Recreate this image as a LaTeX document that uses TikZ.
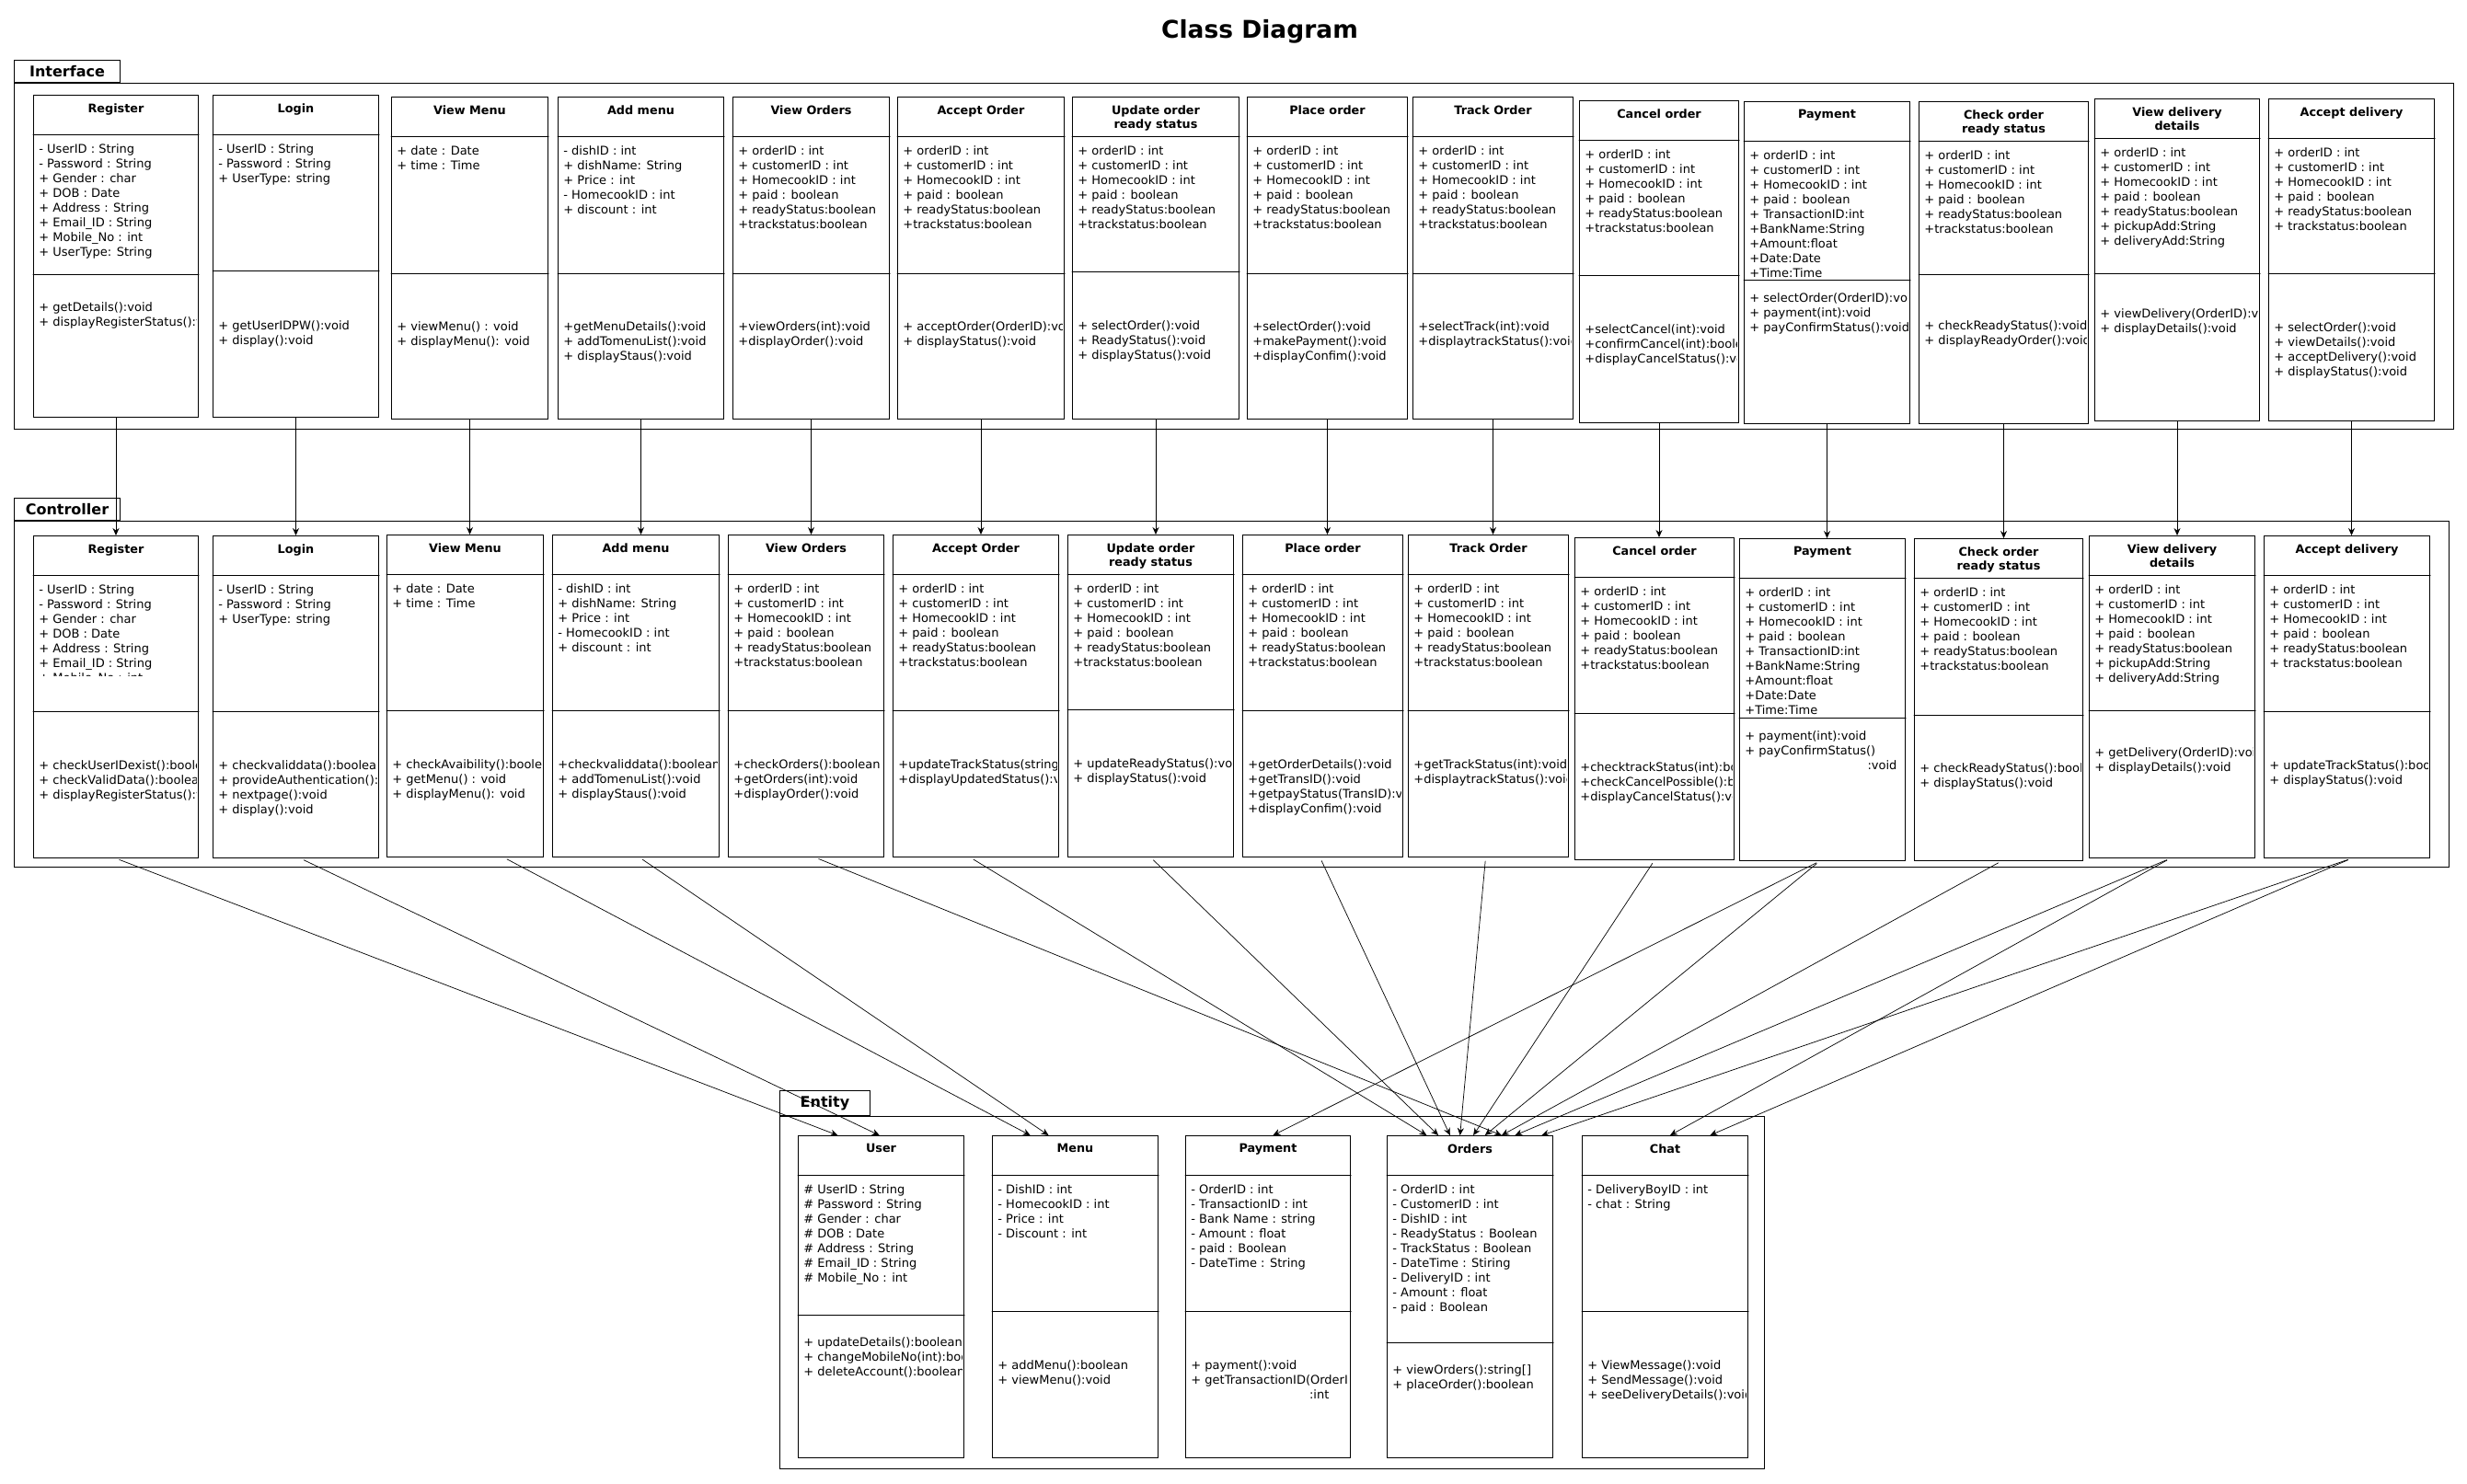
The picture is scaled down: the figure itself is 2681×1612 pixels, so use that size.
\documentclass[tikz,border=0pt]{standalone}
\usepackage{fontspec}
\setmainfont{DejaVu Sans}
\usetikzlibrary{arrows.meta,positioning,calc}

% one UML class: name, left, top, width, attribute height, offset of methods, title, attributes, methods
\newcommand{\umlclass}[9]{%
  \node[classbox, minimum width=#4*0.5pt] (#1) at (#2,#3) {};
  \draw[sepline] ([shift={(0,43)}]#1.north west) -- ([shift={(0,43)}]#1.north east);
  \draw[sepline] ([shift={(0,43+#5)}]#1.north west) -- ([shift={(0,43+#5)}]#1.north east);
  \begin{scope}
    \clip ([shift={(1,1)}]#1.north west) rectangle ([shift={(-3,-1)}]#1.south east);
    \node[classname, below=4.5pt of #1.north] (#1-name) {#7};
    \node[members] (#1-attr) at ([shift={(6,53)}]#1.north west) {#8};
    \node[members] (#1-ops) at ([shift={(6,38+#5+#6)}]#1.north west) {#9};
  \end{scope}
}
\newcommand{\orderattrs}{+ orderID : int\\+ customerID : int\\+ HomecookID : int\\+ paid : boolean\\+ readyStatus:boolean\\+trackstatus:boolean}
\newcommand{\payattrs}{+ orderID : int\\+ customerID : int\\+ HomecookID : int\\+ paid : boolean\\+ TransactionID:int\\+BankName:String\\+Amount:float\\+Date:Date\\+Time:Time}
\newcommand{\deliveryattrs}{+ orderID : int\\+ customerID : int\\+ HomecookID : int\\+ paid : boolean\\+ readyStatus:boolean\\+ pickupAdd:String\\+ deliveryAdd:String}

\begin{document}
\begin{tikzpicture}[x=0.5pt, y=-0.5pt, >={Stealth[length=4pt,width=3.5pt]}, line cap=round]
   \tikzstyle{classbox}=[draw, rectangle, line width=0.5pt, minimum height=175pt, inner sep=0pt, anchor=north west]
   \tikzstyle{sepline}=[line width=0.5pt]
   \tikzstyle{classname}=[align=center, inner sep=0pt, font=\bfseries\fontsize{6.4}{7.5}\selectfont]
   \tikzstyle{members}=[align=left, inner sep=0pt, anchor=north west, font=\fontsize{6.5}{8}\selectfont]
   \tikzstyle{pkg}=[draw, line width=0.5pt, inner sep=0pt, anchor=north west]
   \tikzstyle{pkgtab}=[draw, line width=0.5pt, inner sep=0pt, anchor=south west, minimum height=12pt, font=\bfseries\fontsize{8}{9.6}\selectfont]
   \tikzstyle{flow}=[->, line width=0.45pt]
   \tikzstyle{link}=[->, line width=0.35pt, shorten <=2pt]

   \useasboundingbox (0,0) rectangle (2681,1612);
   \node[font=\bfseries\fontsize{13.25}{16}\selectfont] (title) at (1369,34) {Class Diagram};

   % packages
   \node[pkg, minimum width=2651*0.5pt, minimum height=376*0.5pt] (interface) at (15,90) {};
   \node[pkgtab, minimum width=115*0.5pt] (interface-tab) at (interface.north west) {Interface};
   \node[pkg, minimum width=2646*0.5pt, minimum height=376*0.5pt] (controller) at (15,566) {};
   \node[pkgtab, minimum width=115*0.5pt] (controller-tab) at (controller.north west) {Controller};
   \node[pkg, minimum width=1070*0.5pt, minimum height=383*0.5pt] (entity) at (847,1213) {};
   \node[pkgtab, minimum width=98*0.5pt, minimum height=13.5pt] (entity-tab) at (entity.north west) {Entity};

   % interface
   \umlclass{iRegister}{36}{103}{179}{152}{35}{Register}{- UserID : String\\- Password : String\\+ Gender : char\\+ DOB : Date\\+ Address : String\\+ Email\_ID : String\\+ Mobile\_No : int\\+ UserType: String}{+ getDetails():void\\+ displayRegisterStatus():void}
   \umlclass{iLogin}{231}{103}{180}{148}{59}{Login}{- UserID : String\\- Password : String\\+ UserType: string}{+ getUserIDPW():void\\+ display():void}
   \umlclass{iViewMenu}{425}{105}{170}{149}{57}{View Menu}{+ date : Date\\+ time : Time}{+ viewMenu() : void\\+ displayMenu(): void}
   \umlclass{iAddMenu}{606}{105}{180}{149}{57}{Add menu}{- dishID : int\\+ dishName: String\\+ Price : int\\- HomecookID : int\\+ discount : int}{+getMenuDetails():void\\+ addTomenuList():void\\+ displayStaus():void}
   \umlclass{iViewOrders}{796}{105}{170}{149}{57}{View Orders}{\orderattrs}{+viewOrders(int):void\\+displayOrder():void}
   \umlclass{iAcceptOrder}{975}{105}{181}{149}{57}{Accept Order}{\orderattrs}{+ acceptOrder(OrderID):void\\+ displayStatus():void}
   \umlclass{iUpdateOrder}{1165}{105}{181}{147}{58}{Update order\\ready status}{\orderattrs}{+ selectOrder():void\\+ ReadyStatus():void\\+ displayStatus():void}
   \umlclass{iPlaceOrder}{1355}{105}{174}{149}{57}{Place order}{\orderattrs}{+selectOrder():void\\+makePayment():void\\+displayConfim():void}
   \umlclass{iTrackOrder}{1535}{105}{174}{149}{57}{Track Order}{\orderattrs}{+selectTrack(int):void\\+displaytrackStatus():void}
   \umlclass{iCancelOrder}{1716}{109}{173}{147}{58}{Cancel order}{\orderattrs}{+selectCancel(int):void\\+confirmCancel(int):boolean\\+displayCancelStatus():void}
   \umlclass{iPayment}{1895}{110}{180}{151}{19}{Payment}{\payattrs}{+ selectOrder(OrderID):void\\+ payment(int):void\\+ payConfirmStatus():void}
   \umlclass{iCheckOrder}{2085}{110}{184}{145}{55}{Check order\\ready status}{\orderattrs}{+ checkReadyStatus():void\\+ displayReadyOrder():void}
   \umlclass{iViewDelivery}{2276}{107}{179}{147}{43}{View delivery\\details}{\deliveryattrs}{+ viewDelivery(OrderID):void\\+ displayDetails():void}
   \umlclass{iAcceptDelivery}{2465}{107}{180}{147}{58}{Accept delivery}{+ orderID : int\\+ customerID : int\\+ HomecookID : int\\+ paid : boolean\\+ readyStatus:boolean\\+ trackstatus:boolean}{+ selectOrder():void\\+ viewDetails():void\\+ acceptDelivery():void\\+ displayStatus():void}

   % controller
   \umlclass{cRegister}{36}{582}{179}{148}{58}{Register}{- UserID : String\\- Password : String\\+ Gender : char\\+ DOB : Date\\+ Address : String\\+ Email\_ID : String}{+ checkUserIDexist():boolean\\+ checkValidData():boolean\\+ displayRegisterStatus():void}
   \begin{scope}
     \clip (37,720) rectangle (213,734);
     \node[members] (cRegister-cut) at ([shift={(6,149)}]cRegister.north west) {+ Mobile\_No : int};
   \end{scope}
   \umlclass{cLogin}{231}{582}{180}{148}{58}{Login}{- UserID : String\\- Password : String\\+ UserType: string}{+ checkvaliddata():boolean\\+ provideAuthentication():void\\+ nextpage():void\\+ display():void}
   \umlclass{cViewMenu}{420}{581}{170}{148}{58}{View Menu}{+ date : Date\\+ time : Time}{+ checkAvaibility():boolean\\+ getMenu() : void\\+ displayMenu(): void}
   \umlclass{cAddMenu}{600}{581}{181}{148}{58}{Add menu}{- dishID : int\\+ dishName: String\\+ Price : int\\- HomecookID : int\\+ discount : int}{+checkvaliddata():boolean\\+ addTomenuList():void\\+ displayStaus():void}
   \umlclass{cViewOrders}{791}{581}{169}{148}{58}{View Orders}{\orderattrs}{+checkOrders():boolean\\+getOrders(int):void\\+displayOrder():void}
   \umlclass{cAcceptOrder}{970}{581}{180}{148}{58}{Accept Order}{\orderattrs}{+updateTrackStatus(string):void\\+displayUpdatedStatus():void}
   \umlclass{cUpdateOrder}{1160}{581}{180}{147}{58}{Update order\\ready status}{\orderattrs}{+ updateReadyStatus():void\\+ displayStatus():void}
   \umlclass{cPlaceOrder}{1350}{581}{174}{148}{58}{Place order}{\orderattrs}{+getOrderDetails():void\\+getTransID():void\\+getpayStatus(TransID):void\\+displayConfim():void}
   \umlclass{cTrackOrder}{1530}{581}{174}{148}{58}{Track Order}{\orderattrs}{+getTrackStatus(int):void\\+displaytrackStatus():void}
   \umlclass{cCancelOrder}{1711}{584}{173}{148}{58}{Cancel order}{\orderattrs}{+checktrackStatus(int):boolean\\+checkCancelPossible():boolean\\+displayCancelStatus():void}
   \umlclass{cPayment}{1890}{585}{180}{152}{19}{Payment}{\payattrs}{+ payment(int):void\\+ payConfirmStatus()\\\makebox[82.5pt][r]{:void}}
   \umlclass{cCheckOrder}{2080}{585}{183}{149}{57}{Check order\\ready status}{\orderattrs}{+ checkReadyStatus():boolean\\+ displayStatus():void}
   \umlclass{cViewDelivery}{2270}{582}{180}{147}{45}{View delivery\\details}{\deliveryattrs}{+ getDelivery(OrderID):void\\+ displayDetails():void}
   \umlclass{cAcceptDelivery}{2460}{582}{180}{148}{58}{Accept delivery}{+ orderID : int\\+ customerID : int\\+ HomecookID : int\\+ paid : boolean\\+ readyStatus:boolean\\+ trackstatus:boolean}{+ updateTrackStatus():boolean\\+ displayStatus():void}

   % entity
   \umlclass{eUser}{867}{1234}{180}{152}{29}{User}{\# UserID : String\\\# Password : String\\\# Gender : char\\\# DOB : Date\\\# Address : String\\\# Email\_ID : String\\\# Mobile\_No : int}{+ updateDetails():boolean\\+ changeMobileNo(int):boolean\\+ deleteAccount():boolean}
   \umlclass{eMenu}{1078}{1234}{180}{148}{58}{Menu}{- DishID : int\\- HomecookID : int\\- Price : int\\- Discount : int}{+ addMenu():boolean\\+ viewMenu():void}
   \umlclass{ePayment}{1288}{1234}{179}{148}{58}{Payment}{- OrderID : int\\- TransactionID : int\\- Bank Name : string\\- Amount : float\\- paid : Boolean\\- DateTime : String}{+ payment():void\\+ getTransactionID(OrderID)\\\makebox[75pt][r]{:int}}
   \umlclass{eOrders}{1507}{1234}{180}{182}{29}{Orders}{- OrderID : int\\- CustomerID : int\\- DishID : int\\- ReadyStatus : Boolean\\- TrackStatus : Boolean\\- DateTime : Stiring\\- DeliveryID : int\\- Amount : float\\- paid : Boolean}{+ viewOrders():string[]\\+ placeOrder():boolean}
   \umlclass{eChat}{1719}{1234}{180}{148}{58}{Chat}{- DeliveryBoyID : int\\- chat : String}{+ ViewMessage():void\\+ SendMessage():void\\+ seeDeliveryDetails():void}

   % interface -> controller
   \foreach \n in {Register,Login,ViewMenu,AddMenu,ViewOrders,AcceptOrder,UpdateOrder,PlaceOrder,TrackOrder,CancelOrder,Payment,CheckOrder,ViewDelivery,AcceptDelivery}
     \draw[flow] (i\n.south) -- (i\n.south |- c\n.north);

   % controller -> entity
   \foreach \src/\dx/\dst/\pos in {Register/0pt/User/0.24, Login/2.5pt/User/0.49, ViewMenu/21pt/Menu/0.23, AddMenu/2pt/Menu/0.34,
       ViewOrders/5pt/Orders/0.69, AcceptOrder/-3pt/Orders/0.24, UpdateOrder/0pt/Orders/0.31, PlaceOrder/-1.5pt/Orders/0.38,
       TrackOrder/-1.5pt/Orders/0.44, CancelOrder/0pt/Orders/0.52, Payment/-1.5pt/Orders/0.59, Payment/-1.5pt/Payment/0.53,
       CheckOrder/1.5pt/Orders/0.69, ViewDelivery/-1pt/Orders/0.77, ViewDelivery/-1pt/Chat/0.53,
       AcceptDelivery/2.5pt/Orders/0.93, AcceptDelivery/2.5pt/Chat/0.77}
     \draw[link] ([xshift=\dx]c\src.south) -- ($(e\dst.north west)!\pos!(e\dst.north east)$);
\end{tikzpicture}
\end{document}
